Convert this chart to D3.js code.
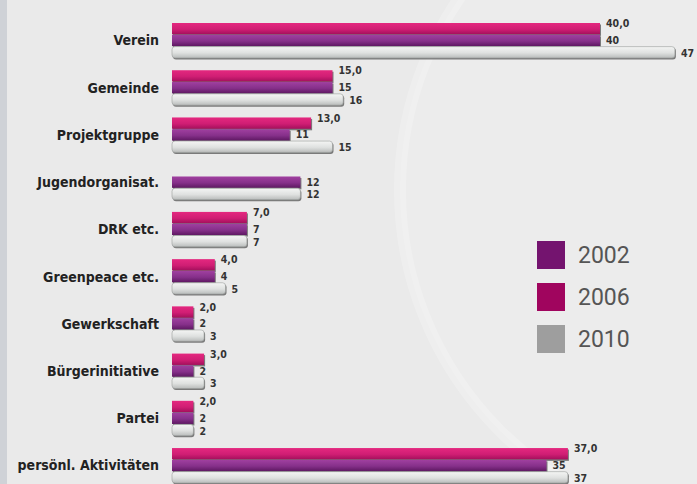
<!DOCTYPE html>
<meta charset="utf-8">
<script src="https://cdn.jsdelivr.net/npm/d3@7"></script>
<style>
body { margin: 0; background: #ebebeb; }
.cat { font-family: "DejaVu Sans Condensed", "DejaVu Sans"; font-weight: bold; font-size: 14px; fill: #222; }
.val { font-family: "DejaVu Sans Condensed", "DejaVu Sans"; font-weight: bold; font-size: 10.5px; fill: #333; }
.leg { font-family: Roboto; font-size: 23px; fill: #555; }
</style>
<body>
<div id="chart"></div>
</body>
<script>
var categories = ["Verein", "Gemeinde", "Projektgruppe", "Jugendorganisat.", "DRK etc.",
  "Greenpeace etc.", "Gewerkschaft", "Bürgerinitiative", "Partei", "persönl. Aktivitäten"];
var years = ["2006", "2002", "2010"];               // order of bars inside a group
var values2006 = [40, 15, 13, null, 7, 4, 2, 3, 2, 37]; // magenta, top bar
var values2002 = [40, 15, 11, 12, 7, 4, 2, 2, 2, 35];   // purple, middle bar
var values2010 = [47, 16, 15, 12, 7, 5, 3, 3, 2, 37];   // grey, bottom bar
var legendYears = ["2002", "2006", "2010"];

var width = 697, height = 484;

var svg = d3.select("#chart").append("svg")
    .attr("width", width)
    .attr("height", height);

// background
svg.append("rect").attr("width", width).attr("height", height).attr("fill", "#eaeaea");
svg.append("rect").attr("width", 7).attr("height", height).attr("fill", "#cfd2d7");
svg.append("circle")
    .attr("cx", 740).attr("cy", 190).attr("r", 340)
    .attr("fill", "#ffffff").attr("fill-opacity", 0.12)
    .attr("stroke", "#ffffff").attr("stroke-opacity", 0.22).attr("stroke-width", 12);

var defs = svg.append("defs");
var grads = {
  "2006": ["#e4287f", "#d01e74", "#a40f5c"],
  "2002": ["#a040a0", "#86308a", "#5e1862"],
  "2010": ["#f4f5f4", "#dfe1e0", "#b9bcbb"]
};
Object.keys(grads).forEach(function(k) {
  var g = defs.append("linearGradient").attr("id", "g" + k)
      .attr("x1", 0).attr("y1", 0).attr("x2", 0).attr("y2", 1);
  g.append("stop").attr("offset", "0%").attr("stop-color", grads[k][0]);
  g.append("stop").attr("offset", "55%").attr("stop-color", grads[k][1]);
  g.append("stop").attr("offset", "100%").attr("stop-color", grads[k][2]);
});

var x = d3.scaleLinear().domain([0, 50]).range([172, 707]);
var y = d3.scaleBand().domain(categories).range([23, 483]).paddingInner(0.26).paddingOuter(0);
var y1 = d3.scaleBand().domain(years).range([0, y.bandwidth()]).paddingInner(0.04);

var rows = categories.map(function(c, i) {
  return {
    cat: c,
    vals: [
      {year: "2006", v: values2006[i]},
      {year: "2002", v: values2002[i]},
      {year: "2010", v: values2010[i]}
    ]
  };
});

svg.selectAll(".cat")
    .data(categories)
    .enter().append("text")
    .attr("class", "cat")
    .attr("x", 159)
    .attr("y", function(d) { return y(d) + y.bandwidth() / 2; })
    .attr("dy", "0.35em")
    .attr("text-anchor", "end")
    .text(function(d) { return d; });

var group = svg.selectAll(".grp")
    .data(rows)
    .enter().append("g")
    .attr("class", "grp")
    .attr("transform", function(d) { return "translate(0," + y(d.cat) + ")"; });

var bars = group.selectAll(".b")
    .data(function(d) { return d.vals.filter(function(e) { return e.v != null; }); })
    .enter();

// shadow
bars.append("rect")
    .attr("x", x(0) + 1)
    .attr("y", function(d) { return y1(d.year) + 1.5; })
    .attr("width", function(d) { return x(d.v) - x(0); })
    .attr("height", y1.bandwidth())
    .attr("rx", function(d) { return d.year == "2010" ? 3 : 0; })
    .attr("fill", "#4a4a4a")
    .attr("fill-opacity", 0.7);

bars.append("rect")
    .attr("x", x(0))
    .attr("y", function(d) { return y1(d.year); })
    .attr("width", function(d) { return x(d.v) - x(0); })
    .attr("height", y1.bandwidth())
    .attr("rx", function(d) { return d.year == "2010" ? 3 : 0; })
    .attr("fill", function(d) { return "url(#g" + d.year + ")"; })
    .attr("stroke", function(d) { return d.year == "2010" ? "#9a9d9c" : "none"; })
    .attr("stroke-width", 0.6);

var labelShift = {"2006": -1.5, "2002": 3.5, "2010": 4.5};
bars.append("text")
    .attr("class", "val")
    .attr("x", function(d) { return x(d.v) + 6; })
    .attr("y", function(d) { return y1(d.year) + y1.bandwidth() / 2 + labelShift[d.year]; })
    .text(function(d) { return d.year == "2006" ? d3.format(".1f")(d.v).replace(".", ",") : d.v; });

// legend
var legColors = {"2002": "#74146f", "2006": "#a0055e", "2010": "#9e9e9e"};
var ly = d3.scaleBand().domain(legendYears).range([241, 367]);
var leg = svg.selectAll(".legitem")
    .data(legendYears)
    .enter().append("g")
    .attr("transform", function(d) { return "translate(537," + ly(d) + ")"; });
leg.append("rect")
    .attr("width", 28).attr("height", 28)
    .attr("fill", function(d) { return legColors[d]; });
leg.append("text")
    .attr("class", "leg")
    .attr("x", 41).attr("y", 14)
    .attr("dy", "0.35em")
    .text(function(d) { return d; });
</script>
